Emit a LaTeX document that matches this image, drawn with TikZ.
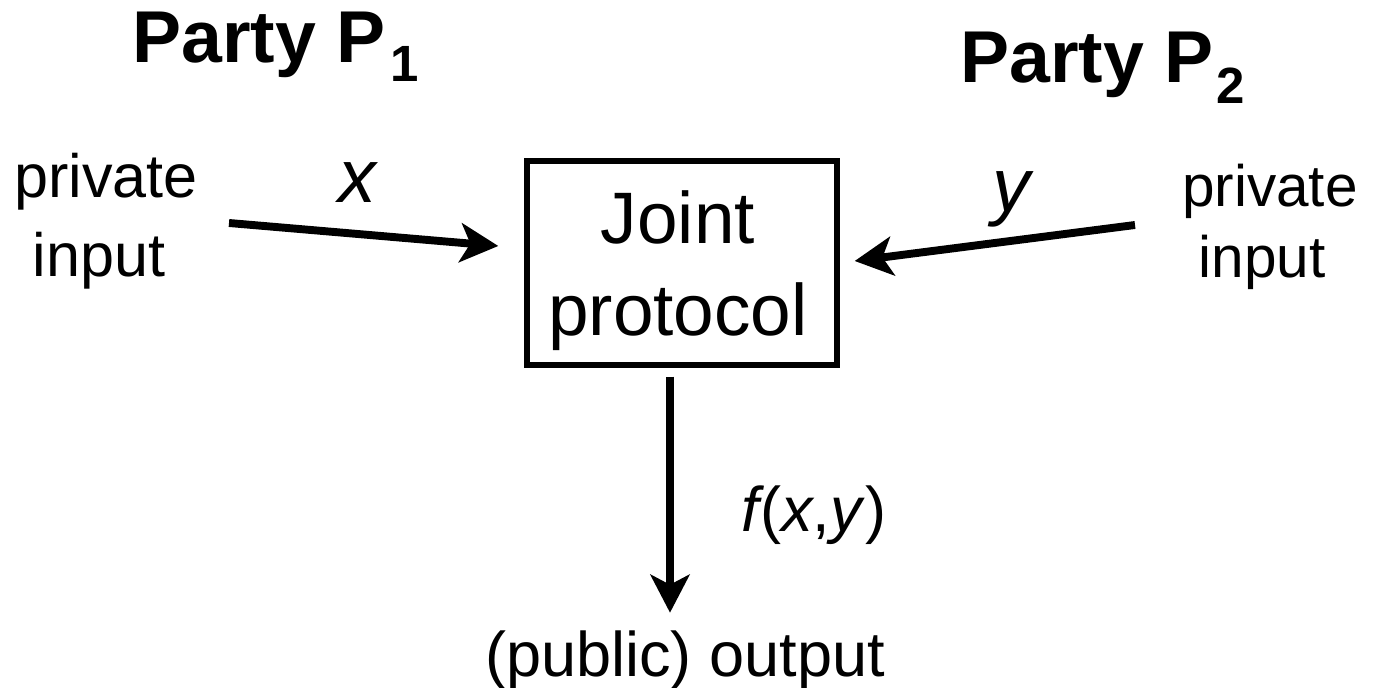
\documentclass[tikz,border=0pt]{standalone}
\usepackage{fontspec}
\setmainfont{Liberation Sans}
\usetikzlibrary{arrows.meta,calc}
\begin{document}
\begin{tikzpicture}[x=0.02cm,y=-0.02cm,
  party/.style={anchor=base west,inner sep=0pt,font=\fontsize{41.8}{45}\selectfont\bfseries},
  lbl/.style={anchor=base,inner sep=0pt},
  flow/.style={line width=4.5pt,-{Stealth[length=0.76cm,width=0.78cm,inset=0.2cm]}},
  protobox/.style={draw,line width=3.1pt,minimum width=6.2cm,minimum height=4.08cm,inner sep=0pt}
]
\useasboundingbox (0,0) rectangle (1397,688);
% titles
\node[party] (P1) at (132,63) {Party P\kern0.1cm\raisebox{-0.38cm}{\fontsize{29}{32}\selectfont 1}};
\node[party] (P2) at (960,83) {Party P\kern0.06cm\raisebox{-0.42cm}{\fontsize{29}{32}\selectfont 2}};
% left input
\node[lbl,font=\fontsize{34.8}{40}\selectfont] (lpriv) at (106,198) {private};
\node[lbl,font=\fontsize{34.8}{40}\selectfont] (linp) at (99,277) {input};
% right input
\node[lbl,font=\fontsize{33.3}{40}\selectfont] (rpriv) at (1270,207) {private};
\node[lbl,font=\fontsize{33.3}{40}\selectfont] (rinp) at (1262,278) {input};
% protocol box
\node[protobox] (proto) at (682,263) {};
\node[align=center,inner sep=0pt,font=\fontsize{41.5}{52.4}\selectfont] (prototext) at (678,270.5) {Joint\\protocol};
% output
\node[lbl,font=\fontsize{35.9}{40}\selectfont] (out) at (685,677) {(public) output};
% connector coordinates
\coordinate (xs) at (229,223);
\coordinate (xe) at ($(proto.west)+(-26,-17)$);
\coordinate (ys) at (1135,225);
\coordinate (ye) at ($(proto.east)+(15,-2)$);
\coordinate (fs) at ($(proto.south)+(-12,9)$);
\coordinate (fe) at ($(proto.south)+(-12,245)$);
\draw[flow] (xs) -- (xe);
\draw[flow] (ys) -- (ye);
\draw[flow] (fs) -- (fe);
% labels
\node[lbl,font=\fontsize{43}{48}\selectfont\itshape] (xl) at (357,203) {x};
\node[lbl,font=\fontsize{43}{48}\selectfont\itshape] (yl) at (1011,212) {y};
\node[anchor=base west,inner sep=0pt,font=\fontsize{35.9}{40}\selectfont] (fl) at (741,532) {\textit{f}\kern-0.08cm(\textit{x},\textit{y})};
\end{tikzpicture}
\end{document}
